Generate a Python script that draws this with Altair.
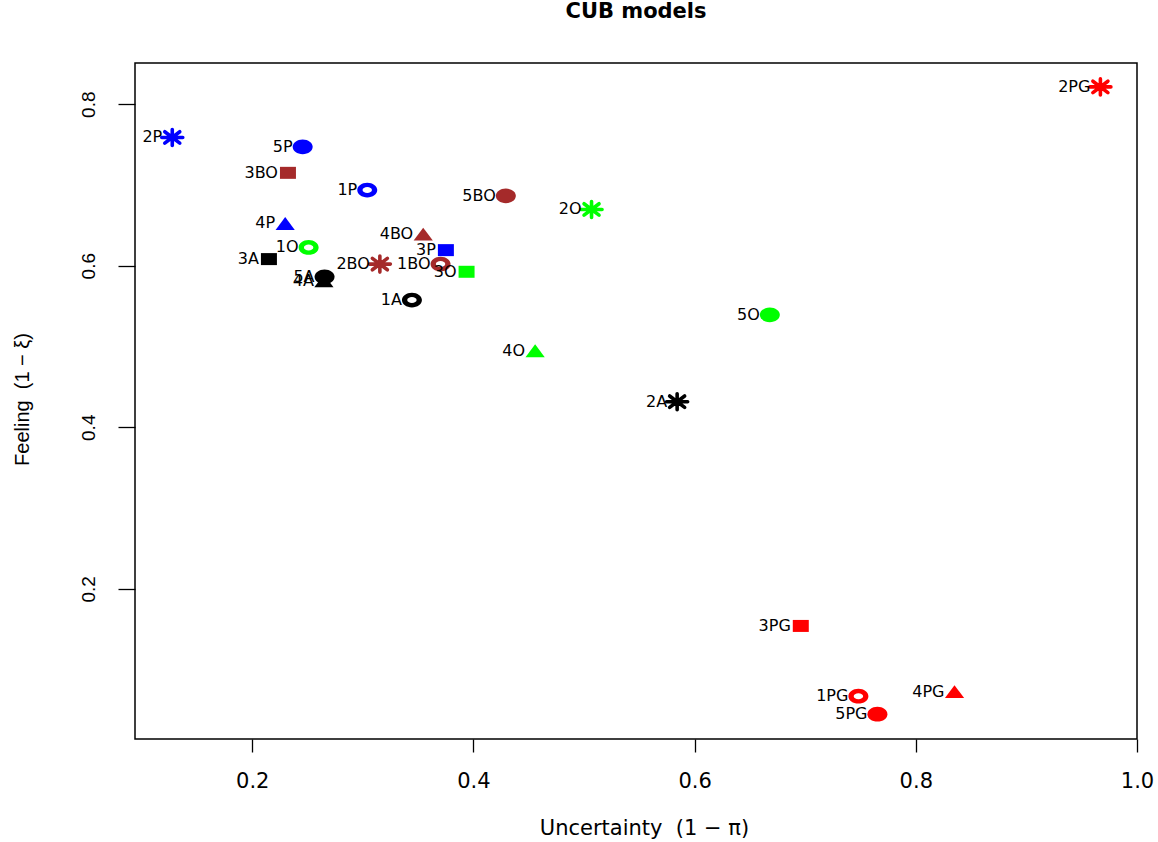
import altair as alt
import pandas as pd

# ---- data ----
names = ["1A", "2A", "3A", "4A", "5A",
         "1BO", "2BO", "3BO", "4BO", "5BO",
         "1O", "2O", "3O", "4O", "5O",
         "1P", "2P", "3P", "4P", "5P",
         "1PG", "2PG", "3PG", "4PG", "5PG"]
uncertainty = [0.3444, 0.5842, 0.2151, 0.2648, 0.2654,
               0.3703, 0.3154, 0.2323, 0.3546, 0.4293,
               0.2510, 0.5068, 0.3938, 0.4558, 0.6680,
               0.3040, 0.1277, 0.3751, 0.2298, 0.2456,
               0.7481, 0.9669, 0.6960, 0.8350, 0.7653]
feeling = [0.5574, 0.4316, 0.6082, 0.5813, 0.5863,
           0.6020, 0.6020, 0.7150, 0.6391, 0.6865,
           0.6226, 0.6697, 0.5925, 0.4947, 0.5392,
           0.6936, 0.7588, 0.6193, 0.6523, 0.7472,
           0.0670, 0.8214, 0.1540, 0.0727, 0.0447]

groups = ["A", "BO", "O", "P", "PG"]
group_colors = ["#000000", "#A52A2A", "#00FF00", "#0000FF", "#FF0000"]
x_ticks = [0.2, 0.4, 0.6, 0.8, 1.0]
y_ticks = [0.2, 0.4, 0.6, 0.8]

df = pd.DataFrame({
    "name": names,
    "x": uncertainty,
    "y": feeling,
    "kind": [n[0] for n in names],
    "grp": [n[1:] for n in names],
})

# marker shapes (slightly wider than tall, as in the reference)
ellipse = ("M1,0C1,0.41,0.552,0.74,0,0.74C-0.552,0.74,-1,0.41,-1,0"
           "C-1,-0.41,-0.552,-0.74,0,-0.74C0.552,-0.74,1,-0.41,1,0Z")
ring = (ellipse +
        "M0.47,0C0.47,-0.166,0.26,-0.3,0,-0.3C-0.26,-0.3,-0.47,-0.166,-0.47,0"
        "C-0.47,0.166,-0.26,0.3,0,0.3C0.26,0.3,0.47,0.166,0.47,0Z")
square = "M-0.8,-0.6L0.8,-0.6L0.8,0.6L-0.8,0.6Z"
triangle = "M0,-0.64L0.96,0.64L-0.96,0.64Z"
asterisk = ("M-1.05,0L1.05,0M0,-0.8L0,0.8"
            "M-0.75,-0.57L0.75,0.57M-0.75,0.57L0.75,-0.57")

xscale = alt.Scale(domain=[0.094, 1.0], nice=False, zero=False)
yscale = alt.Scale(domain=[0.014, 0.851], nice=False, zero=False)
cscale = alt.Scale(domain=groups, range=group_colors)

xaxis = alt.Axis(values=x_ticks, format=".1f", grid=False, domain=False,
                 tickSize=13, tickColor="black", tickWidth=1.3,
                 labelFont="DejaVu Sans", labelFontSize=21, labelColor="black",
                 labelPadding=18, labelFlush=False,
                 title="Uncertainty\u00a0\u00a0(1 \u2212 \u03c0)",
                 titleFont="DejaVu Sans", titleFontSize=21,
                 titleFontWeight="normal", titleColor="black",
                 titleX=509, titleY=95, titleBaseline="alphabetic",
                 titleAlign="center")
yaxis = alt.Axis(values=y_ticks, format=".1f", grid=False, domain=False,
                 tickSize=17, tickColor="black", tickWidth=1.3,
                 labelFont="Liberation Sans", labelFontSize=19,
                 labelColor="black", labelAngle=270, labelAlign="center",
                 labelBaseline="bottom", labelPadding=20, labelFlush=False,
                 title="Feeling\u00a0\u00a0(1 \u2212 \u03be)",
                 titleFont="Liberation Sans", titleFontSize=20,
                 titleFontWeight="normal", titleColor="black",
                 titleAngle=270, titleX=-107, titleY=336,
                 titleBaseline="alphabetic", titleAlign="center")

base = alt.Chart(df).encode(
    x=alt.X("x:Q", scale=xscale, axis=xaxis),
    y=alt.Y("y:Q", scale=yscale, axis=yaxis),
)

filled = base.transform_filter(alt.datum.kind != "2").mark_point(
    filled=True, size=400, opacity=1, strokeWidth=0
).encode(
    color=alt.Color("grp:N", scale=cscale, legend=None),
    shape=alt.Shape("kind:N", scale=alt.Scale(domain=["1", "3", "4", "5"],
                                              range=[ring, square, triangle, ellipse]),
                    legend=None),
)

stars = base.transform_filter(alt.datum.kind == "2").mark_point(
    filled=False, size=400, opacity=1, strokeWidth=3.6, strokeCap="round",
    shape=asterisk
).encode(
    color=alt.Color("grp:N", scale=cscale, legend=None),
)

labels = base.mark_text(
    align="right", baseline="middle", dx=-10, dy=0,
    font="DejaVu Sans", fontSize=16, color="black"
).encode(text="name:N")

chart = alt.layer(filled, stars, labels).properties(
    width=1002, height=676,
    autosize=alt.AutoSizeParams(type="none"),
    padding={"left": 135, "top": 63, "right": 21, "bottom": 103},
    background="white",
    title=alt.Title("CUB models", font="DejaVu Sans", fontSize=21,
                    fontWeight="bold", color="black", anchor="middle",
                    baseline="alphabetic", offset=24),
).configure_view(stroke="black", strokeWidth=1.5)

chart.save("out.html", embed_options={"renderer": "svg", "actions": False})
